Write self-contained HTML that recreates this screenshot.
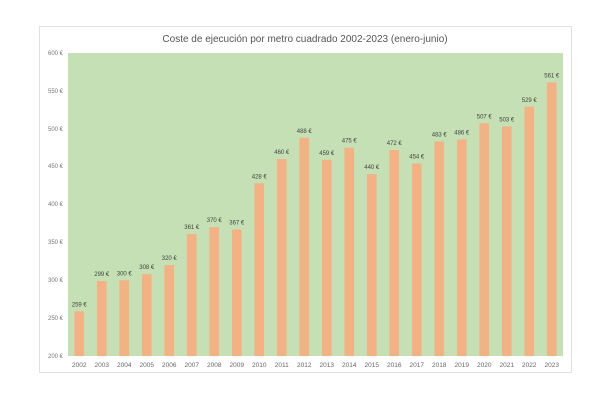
<!DOCTYPE html>
<html><head><meta charset="utf-8"><style>
body{margin:0;background:#fff;width:610px;height:400px;overflow:hidden}
</style></head><body>
<svg width="610" height="400" xmlns="http://www.w3.org/2000/svg" font-family="Liberation Sans, sans-serif">
<rect x="39.5" y="26.5" width="532" height="346" fill="#fff" stroke="#e0e0e0"/>
<text x="305" y="42" text-anchor="middle" font-size="10" fill="#555">Coste de ejecución por metro cuadrado 2002-2023 (enero-junio)</text>
<rect x="68" y="53" width="495" height="303" fill="#c5e0b4"/>
<g font-size="6" fill="#777" text-anchor="end">
<text x="63" y="55">600 €</text><text x="63" y="93">550 €</text><text x="63" y="131">500 €</text><text x="63" y="168">450 €</text><text x="63" y="206">400 €</text><text x="63" y="244">350 €</text><text x="63" y="282">300 €</text><text x="63" y="320">250 €</text><text x="63" y="358">200 €</text>
</g>
<g fill="#f4b183">
<rect x="74.45" y="311.3" width="9.6" height="44.7"/>
<rect x="96.95" y="281.0" width="9.6" height="75.0"/>
<rect x="119.45" y="280.25" width="9.6" height="75.75"/>
<rect x="141.95" y="274.2" width="9.6" height="81.8"/>
<rect x="164.45" y="265.1" width="9.6" height="90.9"/>
<rect x="186.95" y="234.0" width="9.6" height="122.0"/>
<rect x="209.45" y="227.2" width="9.6" height="128.8"/>
<rect x="231.95" y="229.5" width="9.6" height="126.5"/>
<rect x="254.45" y="183.3" width="9.6" height="172.7"/>
<rect x="276.95" y="159.05" width="9.6" height="196.95"/>
<rect x="299.45" y="137.8" width="9.6" height="218.2"/>
<rect x="321.95" y="159.8" width="9.6" height="196.2"/>
<rect x="344.45" y="147.7" width="9.6" height="208.3"/>
<rect x="366.95" y="174.2" width="9.6" height="181.8"/>
<rect x="389.45" y="150.0" width="9.6" height="206.0"/>
<rect x="411.95" y="163.6" width="9.6" height="192.4"/>
<rect x="434.45" y="141.6" width="9.6" height="214.4"/>
<rect x="456.95" y="139.4" width="9.6" height="216.6"/>
<rect x="479.45" y="123.4" width="9.6" height="232.6"/>
<rect x="501.95" y="126.5" width="9.6" height="229.5"/>
<rect x="524.45" y="106.8" width="9.6" height="249.2"/>
<rect x="546.95" y="82.5" width="9.6" height="273.5"/>
</g>
<g font-size="6" fill="#444" text-anchor="middle">
<text x="79.25" y="306.3">259 €</text>
<text x="101.75" y="276.0">299 €</text>
<text x="124.25" y="275.25">300 €</text>
<text x="146.75" y="269.2">308 €</text>
<text x="169.25" y="260.1">320 €</text>
<text x="191.75" y="229.0">361 €</text>
<text x="214.25" y="222.2">370 €</text>
<text x="236.75" y="224.5">367 €</text>
<text x="259.25" y="178.3">428 €</text>
<text x="281.75" y="154.05">460 €</text>
<text x="304.25" y="132.8">488 €</text>
<text x="326.75" y="154.8">459 €</text>
<text x="349.25" y="142.7">475 €</text>
<text x="371.75" y="169.2">440 €</text>
<text x="394.25" y="145.0">472 €</text>
<text x="416.75" y="158.6">454 €</text>
<text x="439.25" y="136.6">483 €</text>
<text x="461.75" y="134.4">486 €</text>
<text x="484.25" y="118.4">507 €</text>
<text x="506.75" y="121.5">503 €</text>
<text x="529.25" y="101.8">529 €</text>
<text x="551.75" y="77.5">561 €</text>
</g>
<g font-size="6.5" fill="#666" text-anchor="middle">
<text x="79.25" y="367">2002</text><text x="101.75" y="367">2003</text><text x="124.25" y="367">2004</text><text x="146.75" y="367">2005</text><text x="169.25" y="367">2006</text><text x="191.75" y="367">2007</text><text x="214.25" y="367">2008</text><text x="236.75" y="367">2009</text><text x="259.25" y="367">2010</text><text x="281.75" y="367">2011</text><text x="304.25" y="367">2012</text><text x="326.75" y="367">2013</text><text x="349.25" y="367">2014</text><text x="371.75" y="367">2015</text><text x="394.25" y="367">2016</text><text x="416.75" y="367">2017</text><text x="439.25" y="367">2018</text><text x="461.75" y="367">2019</text><text x="484.25" y="367">2020</text><text x="506.75" y="367">2021</text><text x="529.25" y="367">2022</text><text x="551.75" y="367">2023</text>
</g>
</svg>
</body></html>
